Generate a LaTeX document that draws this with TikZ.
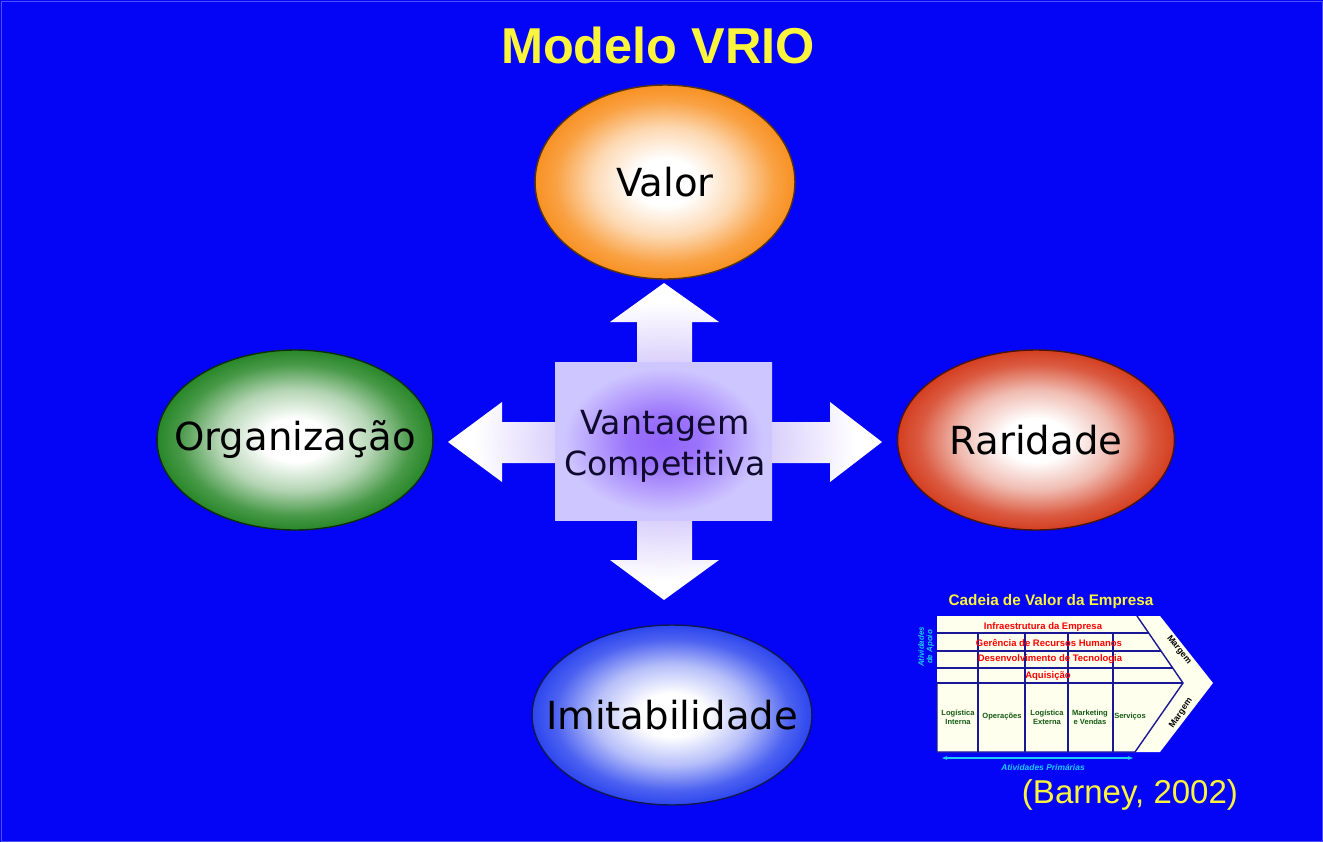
\documentclass[tikz,border=0pt]{standalone}
\usepackage{fontspec}
\setmainfont{Liberation Sans}
\newfontfamily\roundsans{DejaVu Sans}
\usetikzlibrary{shapes.geometric,arrows.meta}

\definecolor{slideblue}{RGB}{4,4,246}
\definecolor{titleyellow}{RGB}{250,245,60}
\definecolor{valor}{RGB}{248,145,35}
\definecolor{organiz}{RGB}{40,135,40}
\definecolor{raridade}{RGB}{212,62,32}
\definecolor{imitab}{RGB}{45,70,238}
\definecolor{crossmid}{RGB}{200,185,250}
\definecolor{sqpurple}{RGB}{145,100,250}
\definecolor{sqedge}{RGB}{206,198,255}
\definecolor{cvtext}{RGB}{15,10,45}
\definecolor{chainblue}{RGB}{25,25,150}
\definecolor{chainpaper}{RGB}{255,255,238}
\definecolor{chaingreen}{RGB}{20,90,20}
\definecolor{chaincyan}{RGB}{30,205,245}

% radial fills for the four ellipses
\newcommand{\ringshading}[2]{%
  \pgfdeclareradialshading{#1}{\pgfpoint{0bp}{0bp}}{%
    color(0bp)=(white); color(6bp)=(white); color(14bp)=(#2!35!white);
    color(21bp)=(#2!85!white); color(25bp)=(#2); color(50bp)=(#2)}}
\ringshading{valorball}{valor}
\ringshading{organizball}{organiz}
\ringshading{raridadeball}{raridade}
\ringshading{imitabball}{imitab}
\pgfdeclareradialshading{crossglow}{\pgfpoint{0bp}{0bp}}{%
  color(0bp)=(crossmid); color(12bp)=(crossmid!70!white); color(22bp)=(white); color(50bp)=(white)}
\pgfdeclareradialshading{squareglow}{\pgfpoint{0bp}{0bp}}{%
  color(0bp)=(sqpurple); color(8bp)=(sqpurple!85!sqedge); color(23bp)=(sqedge); color(50bp)=(sqedge)}

\begin{document}
\begin{tikzpicture}[x=0.02cm,y=-0.02cm,
  ring/.style={ellipse,draw=#1!35!black,line width=0.8pt,shading=#1ball},
  bigword/.style={font=\roundsans\fontsize{22}{26}\selectfont,text=black},
  chainline/.style={draw=chainblue,line width=0.8pt},
  redrow/.style={font=\fontsize{5.4}{6}\selectfont\bfseries,text=red},
  greencell/.style={font=\fontsize{4.3}{5}\selectfont\bfseries,text=chaingreen,align=center},
  margin/.style={font=\fontsize{5}{6}\selectfont\bfseries,inner sep=0.5pt}]

\useasboundingbox (0,0) rectangle (1323,842);
\fill[slideblue] (0,0) rectangle (1323,842);
\draw[slideblue!70!white,line width=0.4pt] (1,1) rectangle (1322,841);

% Title
\node[font=\fontsize{28.7}{32}\selectfont\bfseries,text=titleyellow] (title) at (658,45) {Modelo VRIO};

% Draw the four ellipses
\node[ring=valor,minimum width=5.2cm,minimum height=3.88cm] (valor) at (665,182) {};
\node[ring=organiz,minimum width=5.52cm,minimum height=3.6cm] (organiz) at (295,440) {};
\node[ring=raridade,minimum width=5.54cm,minimum height=3.6cm] (raridade) at (1036,440) {};
\node[ring=imitab,minimum width=5.6cm,minimum height=3.6cm] (imitab) at (672,715) {};

\node[bigword] (valortxt) at (valor) {Valor};
\node[bigword] (organiztxt) at (organiz) {Organização};
\node[bigword] (raridadetxt) at (raridade) {Raridade};
\node[bigword] (imitabtxt) at (imitab) {Imitabilidade};

% Draw the cross of arrows
\shade[shading=crossglow] (664,283) -- (719,322) -- (692,322) -- (692,422) -- (830,422)
  -- (830,402) -- (882,442) -- (830,482) -- (830,463) -- (692,463) -- (692,560)
  -- (719,560) -- (664,600) -- (610,560) -- (637,560) -- (637,463) -- (502,463)
  -- (502,482) -- (448,442) -- (502,402) -- (502,422) -- (637,422) -- (637,322)
  -- (610,322) -- cycle;
\shade[shading=squareglow] (555,362) rectangle (772,520);
\node[font=\roundsans\fontsize{18.9}{23.5}\selectfont,text=cvtext,align=center] (vantagem) at (665,446) {Vantagem\\Competitiva};

% Value chain
\node[font=\fontsize{8.7}{10}\selectfont\bfseries,text=titleyellow] (cvtitle) at (1051,602) {Cadeia de Valor da Empresa};
\fill[chainpaper] (937,616) -- (1160,616) -- (1213,683) -- (1160,752) -- (937,752) -- cycle;
\draw[chainline] (1137,616) -- (1183,683) -- (1135,752) -- (937,752) -- (937,683);
\foreach \y/\x in {633/1148.7,651/1161,668/1172.7,683/1183}
  \draw[chainline] (937,\y) -- (\x,\y);
\foreach \x in {978,1025,1068,1113}
  \draw[chainline] (\x,633) -- (\x,752);

\node[redrow] (infra) at (1043,627) {Infraestrutura da Empresa};
\node[redrow] (gerencia) at (1049,643) {Gerência de Recursos Humanos};
\node[redrow] (desenv) at (1050,659) {Desenvolvimento de Tecnologia};
\node[redrow] (aquis) at (1048,676) {Aquisição};

\node[greencell] (loginterna) at (958,717) {Logística\\Interna};
\node[greencell] (operacoes) at (1002,717) {Operações};
\node[greencell] (logexterna) at (1047,717) {Logística\\Externa};
\node[greencell] (marketing) at (1090,717) {Marketing\\e Vendas};
\node[greencell] (servicos) at (1130,717) {Serviços};

\node[margin,rotate=-51] (margemtop) at (1179,650) {Margem};
\node[margin,rotate=55] (margembot) at (1181,713) {Margem};

\node[rotate=90,font=\fontsize{4.5}{4.8}\selectfont\bfseries\itshape,text=chaincyan,align=center] (apoio) at (926,647) {Atividades\\de Apoio};

\coordinate (primL) at (942,758);
\coordinate (primR) at (1133,758);
\draw[chaincyan,line width=0.8pt,{Stealth[length=3pt]}-{Stealth[length=3pt]}] (primL) -- (primR);
\node[font=\fontsize{4.8}{5}\selectfont\bfseries\itshape,text=chaincyan] (primarias) at (1043,767) {Atividades Primárias};

% Source
\node[font=\fontsize{18.8}{22}\selectfont,text=titleyellow] (barney) at (1130,795) {(Barney, 2002)};

\end{tikzpicture}
\end{document}
